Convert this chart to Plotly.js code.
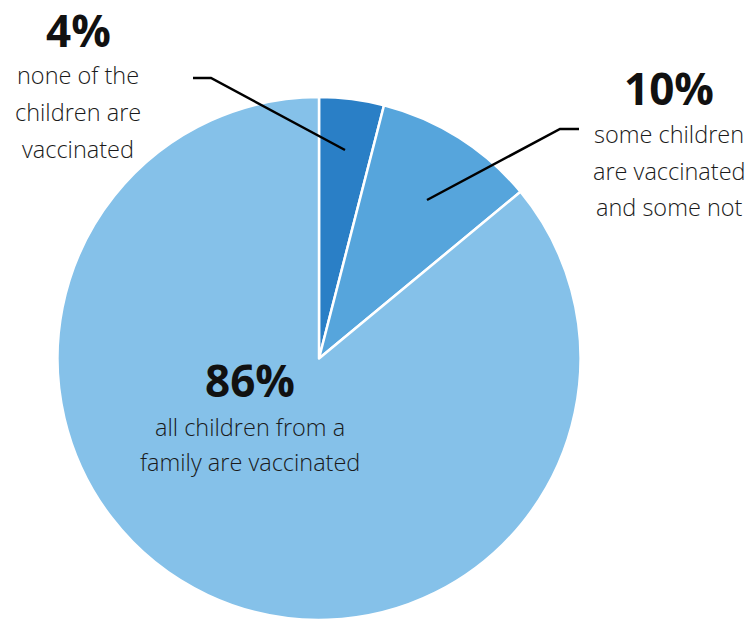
<!DOCTYPE html>
<html>
<head>
<meta charset="utf-8">
<script src="https://cdn.plot.ly/plotly-3.0.1.min.js"></script>
<style>html,body{margin:0;padding:0;background:#fff;}#chart{width:751px;height:620px;}</style>
</head>
<body>
<div id="chart"></div>
<script>
const categories = ["none of the children are vaccinated", "some children are vaccinated and some not", "all children from a family are vaccinated"];
const values = [4, 10, 86];
const colors = ["#2a7fc6", "#56a5dc", "#85c1e9"];
const descLines = [
  ["none of the", "children are", "vaccinated"],
  ["some children", "are vaccinated", "and some not"],
  ["all children from a", "family are vaccinated"]
];

const W = 751, H = 620;
const px = x => x / W;
const py = y => 1 - y / H;

// label block anchors (pixel centre x, percent centre y, first line centre y, line step)
const blocks = [
  {cx: 78, py: 30, ly: 75, step: 37},
  {cx: 669, py: 88, ly: 134, step: 36.5},
  {cx: 250, py: 380, ly: 427, step: 35}
];

const annotations = [];
blocks.forEach((b, i) => {
  annotations.push({
    xref: "paper", yref: "paper", x: px(b.cx), y: py(b.py),
    xanchor: "center", yanchor: "middle", showarrow: false,
    text: "<b>" + values[i] + "%</b>",
    font: {family: "Open Sans", size: 44, color: "#111111"}
  });
  descLines[i].forEach((t, j) => {
    annotations.push({
      xref: "paper", yref: "paper", x: px(b.cx), y: py(b.ly + j * b.step),
      xanchor: "center", yanchor: "middle", showarrow: false,
      text: t,
      font: {family: "Open Sans", size: 23.5, color: "#1a1a1a", weight: 300}
    });
  });
});

const leader = pts => ({
  type: "path", xref: "paper", yref: "paper",
  path: "M " + pts.map(p => px(p[0]) + "," + py(p[1])).join(" L "),
  line: {color: "#000000", width: 2.5}
});

const layout = {
  width: W, height: H,
  margin: {l: 0, r: 0, t: 0, b: 0},
  paper_bgcolor: "#ffffff",
  showlegend: false,
  annotations: annotations,
  shapes: [
    leader([[193, 78], [211, 78], [345, 150]]),
    leader([[579, 129], [560, 129], [427, 200]])
  ]
};

const trace = {
  type: "pie",
  labels: categories,
  values: values,
  sort: false,
  direction: "clockwise",
  rotation: 0,
  textinfo: "none",
  hoverinfo: "label+percent",
  marker: {colors: colors, line: {color: "#ffffff", width: 2.5}},
  domain: {x: [57 / W, 581 / W], y: [0, 1 - 97 / H]}
};

Plotly.newPlot("chart", [trace], layout, {displayModeBar: false, staticPlot: true});
</script>
</body>
</html>
